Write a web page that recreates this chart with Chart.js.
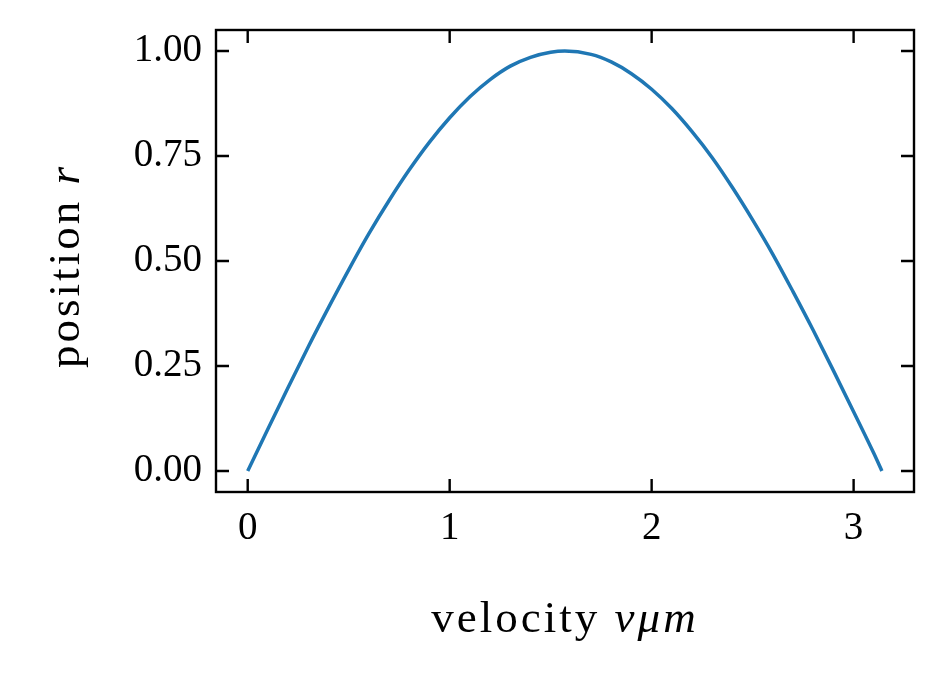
<!DOCTYPE html>
<html>
<head>
<meta charset="utf-8">
<script src="https://cdn.jsdelivr.net/npm/chart.js@4.4.0/dist/chart.umd.min.js"></script>
<style>
  html, body { margin: 0; padding: 0; background: #fff; }
  canvas { display: block; }
</style>
</head>
<body>
<canvas id="myChart" width="944" height="674"></canvas>
<script>
// values
const xValues = [0, 0.1, 0.2, 0.3, 0.4, 0.5, 0.6, 0.7, 0.8, 0.9, 1.0, 1.1, 1.2, 1.3, 1.4, 1.5, 1.57,
  1.7, 1.8, 1.9, 2.0, 2.1, 2.2, 2.3, 2.4, 2.5, 2.6, 2.7, 2.8, 2.9, 3.0, 3.1, 3.14];
const yValues = [0, 0.100, 0.199, 0.296, 0.389, 0.479, 0.565, 0.644, 0.717, 0.783, 0.841, 0.891, 0.932, 0.964, 0.985, 0.997, 1.0,
  0.992, 0.974, 0.946, 0.909, 0.863, 0.808, 0.746, 0.675, 0.598, 0.516, 0.427, 0.335, 0.239, 0.141, 0.042, 0.0];
const xTicks = [0, 1, 2, 3];
const yTicks = [0, 0.25, 0.5, 0.75, 1.0];

const FONT = "'Liberation Serif', 'DejaVu Serif', serif";

// inward ticks on all four sides plus the frame
const frameTicks = {
  id: 'frameTicks',
  afterDraw(chart) {
    const ctx = chart.ctx;
    const a = chart.chartArea;
    const xs = chart.scales.x, ys = chart.scales.y;
    const len = 13;
    ctx.save();
    ctx.strokeStyle = '#000';
    ctx.lineWidth = 2.4;
    ctx.beginPath();
    xTicks.forEach(v => {
      const px = xs.getPixelForValue(v);
      ctx.moveTo(px, a.bottom); ctx.lineTo(px, a.bottom - len);
      ctx.moveTo(px, a.top); ctx.lineTo(px, a.top + len);
    });
    yTicks.forEach(v => {
      const py = ys.getPixelForValue(v);
      ctx.moveTo(a.left, py); ctx.lineTo(a.left + len, py);
      ctx.moveTo(a.right, py); ctx.lineTo(a.right - len, py);
    });
    ctx.stroke();
    ctx.strokeRect(a.left, a.top, a.right - a.left, a.bottom - a.top);

    // axis titles, with the maths part in italic
    ctx.fillStyle = '#000';
    ctx.textBaseline = 'alphabetic';
    ctx.letterSpacing = '3px';
    const up = '45px ' + FONT, it = 'italic 45px ' + FONT;
    ctx.font = up; const w1 = ctx.measureText('velocity ').width;
    ctx.font = it; const w2 = ctx.measureText('vμm').width;
    let x0 = (a.left + a.right) / 2 - (w1 + w2) / 2;
    ctx.font = up; ctx.fillText('velocity ', x0, 632);
    ctx.font = it; ctx.fillText('vμm', x0 + w1, 632);

    ctx.translate(79, 266);
    ctx.rotate(-Math.PI / 2);
    ctx.font = up; const w3 = ctx.measureText('position ').width;
    ctx.font = it; const w4 = ctx.measureText('r').width;
    x0 = -(w3 + w4) / 2;
    ctx.font = up; ctx.fillText('position ', x0, 0);
    ctx.font = it; ctx.fillText('r', x0 + w3, 0);
    ctx.restore();
  }
};

const ctx = document.getElementById('myChart').getContext('2d');
const myChart = new Chart(ctx, {
  type: 'line',
  data: {
    datasets: [{
      data: xValues.map((x, i) => ({ x: x, y: yValues[i] })),
      borderColor: '#1f77b4',
      borderWidth: 3.5,
      pointRadius: 0,
      cubicInterpolationMode: 'monotone',
      fill: false
    }]
  },
  options: {
    responsive: false,
    animation: false,
    devicePixelRatio: 1,
    layout: { padding: { top: 30, right: 30, left: 0, bottom: 0 } },
    plugins: { legend: { display: false }, tooltip: { enabled: false } },
    scales: {
      x: {
        type: 'linear',
        min: -0.157,
        max: 3.299,
        grid: { display: false, drawTicks: false },
        border: { display: false },
        afterBuildTicks: s => { s.ticks = xTicks.map(v => ({ value: v })); },
        afterFit: s => { s.height = 182; s.paddingLeft = 0; s.paddingRight = 0; },
        ticks: {
          color: '#000',
          padding: 13,
          maxRotation: 0,
          font: { family: FONT, size: 39 },
          callback: v => v.toFixed(0)
        }
      },
      y: {
        type: 'linear',
        min: -0.05,
        max: 1.05,
        grid: { display: false, drawTicks: false },
        border: { display: false },
        afterBuildTicks: s => { s.ticks = yTicks.map(v => ({ value: v })); },
        afterFit: s => { s.width = 216; s.paddingTop = 0; s.paddingBottom = 0; },
        ticks: {
          color: '#000',
          padding: 14,
          font: { family: FONT, size: 39 },
          callback: v => v.toFixed(2)
        }
      }
    }
  },
  plugins: [frameTicks]
});
</script>
</body>
</html>
